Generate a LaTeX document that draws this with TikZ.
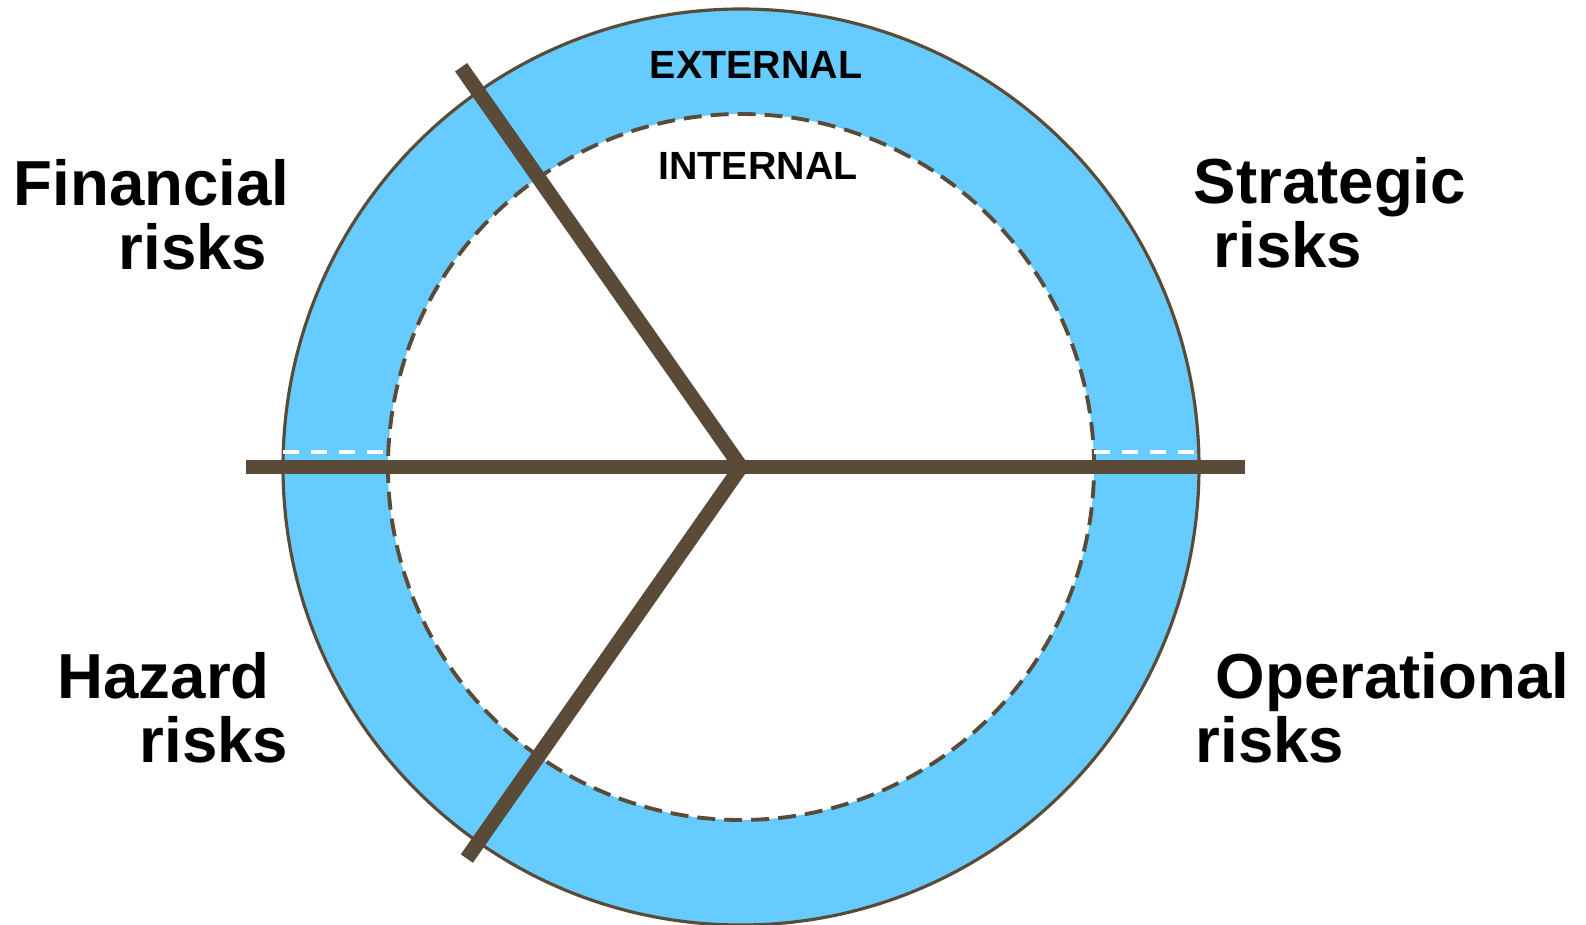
\documentclass[tikz,border=0pt]{standalone}
\usepackage{fontspec}
\setmainfont{Liberation Sans}
\definecolor{ringblue}{RGB}{102,204,255}
\definecolor{spokebrown}{RGB}{90,74,56}

\begin{document}
\begin{tikzpicture}[
    spoke/.style={spokebrown,line width=4.2pt},
    rim/.style={spokebrown,line width=0.9pt},
    riskname/.style={font=\fontsize{18.1}{18}\selectfont\bfseries,align=left,inner sep=0pt,anchor=north west},
    zone/.style={font=\fontsize{11.2}{13}\selectfont\bfseries,inner sep=0pt,anchor=base}]
     \useasboundingbox (-7.41,-4.57) rectangle (8.45,4.67);
     \def\ro{4.58}
     \def\ri{3.53}
     \coordinate (c) at (0,0);
     \fill[ringblue] (c) circle(\ro);
     \fill[white] (c) circle(\ri);
     \draw[rim,line width=1.1pt,dash pattern=on 0.18cm off 0.09cm] (c) circle(\ri);
     \draw[rim] (c) circle(\ro);
     \foreach \n/\a/\b in {l/-\ro/-\ri,r/\ri/\ro} {
      \coordinate (\n1) at ({(\a)/abs(\a)*sqrt((\a)*(\a)-0.0225)},0.15);
      \coordinate (\n2) at ({(\b)/abs(\b)*sqrt((\b)*(\b)-0.0225)},0.15);
      \draw[white,line width=1.1pt,dash pattern=on 0.16cm off 0.12cm] (\n1) -- (\n2);
     }
     \coordinate (w) at (-4.95,0);
     \coordinate (e) at (5.04,0);
     \coordinate (nw) at (125:4.88);
     \coordinate (sw) at (235:4.78);
     \draw[spoke] (w) -- (e);
     \draw[spoke] (nw) -- (c);
     \draw[spoke] (c) -- (sw);
     \node[zone] (ext) at (0.15,3.88) {EXTERNAL};
     \node[zone] (int) at (0.17,2.87) {INTERNAL};
     \node[riskname] (fin) at (-7.28,3.08) {Financial\\\hspace*{1.05cm}risks};
     \node[riskname] (str) at (4.52,3.10) {Strategic\\\hspace*{0.2cm}risks};
     \node[riskname] (haz) at (-6.84,-1.85) {Hazard\\\hspace*{0.82cm}risks};
     \node[riskname] (ope) at (4.54,-1.85) {\hspace*{0.2cm}Operational\\risks};
    \end{tikzpicture}
\end{document}
